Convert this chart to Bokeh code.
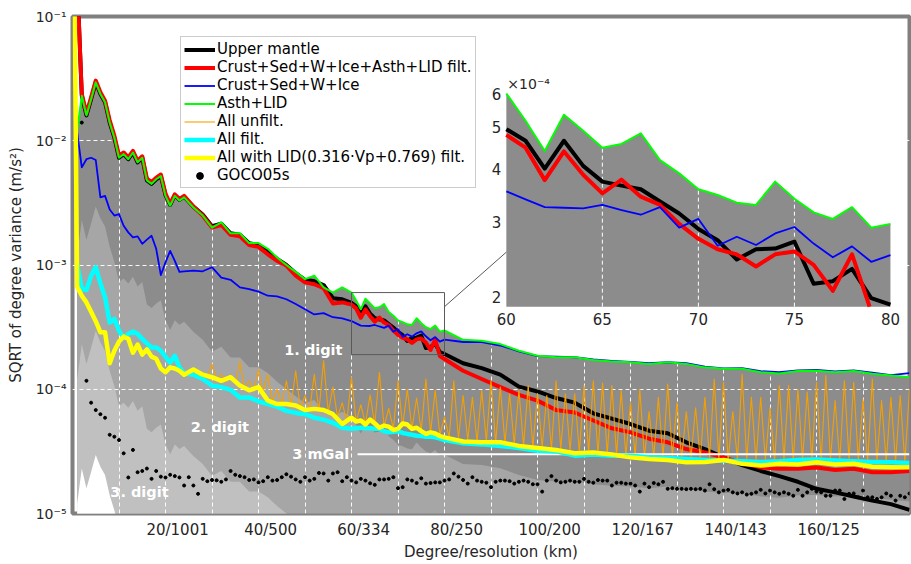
import math
from bokeh.plotting import figure
from bokeh.models import Range1d, FixedTicker, CustomJSTickFormatter, Legend, LegendItem
from bokeh.core.properties import value
from bokeh.embed import file_html
from bokeh.resources import INLINE

nan = float("nan")
FONT = "DejaVu Sans"

# ----------------------------------------------------------------- data
# spherical-harmonic degree grid shared by the model curves
degree = list(range(0, 25)) + list(range(26, 59, 2)) + list(range(60, 81)) + list(range(84, 181, 4))

upper_mantle = [nan, 0.2, 2.3e-2, 1.6e-2, 2.16e-2, 2.95e-2, 2.38e-2, 2.04e-2, 1.4e-2, 1.06e-2, 7.3e-3,
    7.8e-3, 7.1e-3, 8.05e-3, 6.7e-3, 7.3e-3, 4.8e-3, 4.5e-3, 4.9e-3, 5.2e-3, 3.65e-3,
    3.05e-3, 3.65e-3, 3.35e-3, 3.55e-3,
    2.95e-3, 2.55e-3, 2.05e-3, 2.15e-3, 1.8e-3, 1.75e-3, 1.5e-3, 1.45e-3, 1.28e-3, 1.12e-3, 1.0e-3,
    8.6e-4, 7.6e-4, 7.4e-4, 6.9e-4, 5.4e-4, 5.3e-4,
    4.95e-4, 4.65e-4, 4.00e-4, 4.65e-4, 4.06e-4, 3.73e-4, 3.65e-4, 3.58e-4, 3.35e-4, 3.14e-4, 2.89e-4,
    2.72e-4, 2.45e-4, 2.59e-4, 2.60e-4, 2.70e-4, 2.15e-4, 2.18e-4, 2.33e-4, 1.99e-4, 1.92e-4,
    1.62e-4, 1.48e-4, 1.31e-4, 1.05e-4, 9.6e-5, 8.5e-5, 7.8e-5, 6.4e-5, 5.8e-5, 5.25e-5, 4.64e-5,
    4.42e-5, 3.74e-5, 3.3e-5, 2.83e-5, 2.45e-5, 2.2e-5, 2.0e-5, 1.8e-5, 1.58e-5, 1.48e-5, 1.37e-5,
    1.27e-5, 1.19e-5, 1.07e-5]

crust_asth_lid_filt = [nan, 0.2, 2.38e-2, 1.66e-2, 2.24e-2, 3.05e-2, 2.46e-2, 2.1e-2, 1.46e-2, 1.1e-2, 7.6e-3,
    8.05e-3, 7.35e-3, 8.3e-3, 6.9e-3, 7.5e-3, 4.95e-3, 4.65e-3, 5.05e-3, 5.35e-3, 3.75e-3,
    3.1e-3, 3.7e-3, 3.4e-3, 3.6e-3,
    2.95e-3, 2.5e-3, 2.0e-3, 2.1e-3, 1.75e-3, 1.7e-3, 1.45e-3, 1.4e-3, 1.22e-3, 1.08e-3, 9.9e-4,
    8.2e-4, 7.25e-4, 7.0e-4, 6.5e-4, 4.9e-4, 5.0e-4,
    4.80e-4, 4.48e-4, 3.76e-4, 4.39e-4, 3.87e-4, 3.50e-4, 3.77e-4, 3.44e-4, 3.29e-4, 2.97e-4, 2.74e-4,
    2.59e-4, 2.52e-4, 2.36e-4, 2.52e-4, 2.56e-4, 2.38e-4, 2.07e-4, 2.52e-4, 1.85e-4, 1.75e-4,
    1.41e-4, 1.21e-4, 1.04e-4, 9.0e-5, 8.1e-5, 6.8e-5, 6.5e-5, 5.6e-5, 4.85e-5, 4.5e-5, 4.0e-5,
    3.74e-5, 3.3e-5, 3.1e-5, 2.83e-5, 2.55e-5, 2.35e-5, 2.29e-5, 2.29e-5, 2.35e-5, 2.24e-5, 2.29e-5,
    2.15e-5, 2.15e-5, 2.2e-5]

crust_sed_w_ice = [nan, 1.17e-2, 6.1e-3, 7.1e-3, 7.3e-3, 7.0e-3, 3.5e-3, 3.6e-3, 2.8e-3, 2.5e-3, 2.57e-3,
    2.07e-3, 1.83e-3, 1.67e-3, 1.7e-3, 1.48e-3, 1.6e-3, 1.72e-3, 1.35e-3, 8.3e-4, 1.05e-3,
    1.3e-3, 1.08e-3, 8.8e-4, 8.9e-4,
    9.0e-4, 8.9e-4, 9.6e-4, 7.9e-4, 7.6e-4, 6.6e-4, 6.4e-4, 6.1e-4, 5.66e-4, 5.6e-4, 5.3e-4,
    4.85e-4, 4.4e-4, 4.0e-4, 4.1e-4, 3.8e-4, 3.72e-4,
    3.54e-4, 3.39e-4, 3.25e-4, 3.24e-4, 3.23e-4, 3.29e-4, 3.20e-4, 3.12e-4, 3.25e-4, 2.91e-4, 3.05e-4,
    2.64e-4, 2.77e-4, 2.65e-4, 2.82e-4, 2.92e-4, 2.67e-4, 2.48e-4, 2.63e-4, 2.42e-4, 2.51e-4,
    2.4e-4, 2.4e-4, 2.25e-4, 2.02e-4, 1.85e-4, 1.83e-4, 1.81e-4, 1.74e-4, 1.69e-4, 1.66e-4, 1.62e-4,
    1.65e-4, 1.62e-4, 1.52e-4, 1.47e-4, 1.48e-4, 1.4e-4, 1.37e-4, 1.42e-4, 1.43e-4, 1.39e-4, 1.42e-4,
    1.36e-4, 1.3e-4, 1.35e-4]

asth_lid = [nan, 1.2e-2, 2.3e-2, 1.6e-2, 2.16e-2, 2.95e-2, 2.38e-2, 2.04e-2, 1.4e-2, 1.06e-2, 7.3e-3,
    7.8e-3, 7.1e-3, 8.05e-3, 6.7e-3, 7.3e-3, 4.8e-3, 4.5e-3, 4.9e-3, 5.2e-3, 3.6e-3,
    3.0e-3, 3.6e-3, 3.3e-3, 3.5e-3,
    2.9e-3, 2.5e-3, 2.0e-3, 2.2e-3, 1.8e-3, 1.8e-3, 1.5e-3, 1.5e-3, 1.35e-3, 1.15e-3, 1.0e-3,
    8.8e-4, 7.7e-4, 8.2e-4, 6.6e-4, 6.0e-4, 6.6e-4,
    6.0e-4, 5.18e-4, 4.40e-4, 5.35e-4, 4.91e-4, 4.48e-4, 4.57e-4, 4.84e-4, 4.19e-4, 3.90e-4, 3.58e-4,
    3.47e-4, 3.33e-4, 3.29e-4, 3.73e-4, 3.40e-4, 3.16e-4, 3.05e-4, 3.25e-4, 2.91e-4, 2.97e-4,
    2.5e-4, 2.46e-4, 2.31e-4, 2.04e-4, 1.86e-4, 1.81e-4, 1.81e-4, 1.72e-4, 1.67e-4, 1.65e-4, 1.6e-4,
    1.65e-4, 1.6e-4, 1.5e-4, 1.46e-4, 1.46e-4, 1.37e-4, 1.34e-4, 1.4e-4, 1.41e-4, 1.37e-4, 1.4e-4,
    1.33e-4, 1.29e-4, 1.25e-4]

all_filt = [nan, 1.02e-3, 6.4e-4, 6.3e-4, 8.2e-4, 9.6e-4, 7.1e-4, 5.5e-4, 3.44e-4, 3.68e-4, 2.96e-4,
    2.59e-4, 2.79e-4, 2.92e-4, 2.79e-4, 2.54e-4, 2.34e-4, 2.17e-4, 2.17e-4, 2.04e-4, 1.83e-4,
    1.64e-4, 1.86e-4, 1.5e-4, 1.34e-4,
    1.31e-4, 1.21e-4, 1.07e-4, 1.04e-4, 9.9e-5, 8.6e-5, 8.6e-5, 8.0e-5, 7.6e-5, 7.25e-5, 6.7e-5,
    6.45e-5, 6.3e-5, 5.9e-5, 5.7e-5, 5.37e-5, 4.9e-5,
    4.8e-5, 4.85e-5, 4.9e-5, 4.85e-5, 4.85e-5, 4.8e-5, 4.8e-5, 4.6e-5, 4.5e-5, 4.55e-5, 4.6e-5,
    4.45e-5, 4.37e-5, 4.3e-5, 4.23e-5, 4.2e-5, 4.15e-5, 4.15e-5, 4.1e-5, 4.0e-5, 3.9e-5,
    3.67e-5, 3.6e-5, 3.5e-5, 3.37e-5, 3.2e-5, 3.16e-5, 2.92e-5, 2.98e-5, 2.92e-5, 2.92e-5, 2.83e-5,
    2.8e-5, 2.75e-5, 2.7e-5, 2.67e-5, 2.63e-5, 2.6e-5, 2.63e-5, 2.7e-5, 2.72e-5, 2.67e-5, 2.63e-5,
    2.6e-5, 2.58e-5, 2.55e-5]

all_lid_filt = [10.0, 6.7e-4, 5.66e-4, 5.0e-4, 4.2e-4, 3.53e-4, 2.87e-4, 2.87e-4, 1.62e-4, 2.04e-4, 2.42e-4,
    2.65e-4, 2.55e-4, 1.97e-4, 2.29e-4, 1.9e-4, 2.09e-4, 1.83e-4, 1.76e-4, 1.47e-4, 1.37e-4,
    1.5e-4, 1.47e-4, 1.41e-4, 1.31e-4,
    1.44e-4, 1.31e-4, 1.25e-4, 1.17e-4, 1.25e-4, 1.07e-4, 9.8e-5, 1.04e-4, 8.1e-5, 7.6e-5, 7.6e-5,
    7.4e-5, 6.8e-5, 6.95e-5, 6.8e-5, 6.3e-5, 5.25e-5,
    5.9e-5, 5.5e-5, 5.6e-5, 5.2e-5, 5.7e-5, 5.3e-5, 4.9e-5, 5.1e-5, 5.0e-5, 4.7e-5, 4.8e-5,
    5.3e-5, 5.2e-5, 4.8e-5, 4.9e-5, 4.6e-5, 4.37e-5, 4.5e-5, 4.4e-5, 4.2e-5, 4.1e-5,
    3.8e-5, 3.74e-5, 3.74e-5, 3.5e-5, 3.37e-5, 3.24e-5, 3.05e-5, 3.1e-5, 2.98e-5, 2.83e-5, 2.75e-5,
    2.7e-5, 2.58e-5, 2.6e-5, 2.7e-5, 2.51e-5, 2.43e-5, 2.51e-5, 2.48e-5, 2.58e-5, 2.48e-5, 2.51e-5,
    2.38e-5, 2.36e-5, 2.36e-5]

# "All unfilt." (every degree 0..180)
unfilt_degree = list(range(0, 181))
all_unfilt = [
    10.0, 6.7e-4, 5.7e-4, 5.0e-4, 4.2e-4, 3.5e-4, 2.9e-4, 2.85e-4, 1.65e-4, 2.05e-4,
    2.4e-4, 2.6e-4, 2.5e-4, 2.0e-4, 2.3e-4, 1.9e-4, 2.1e-4, 1.85e-4, 1.75e-4, 1.5e-4,
    1.4e-4, 1.5e-4, 1.45e-4, 1.4e-4, 1.3e-4, 1.35e-4, 1.4e-4, 1.3e-4, 1.35e-4, 1.25e-4,
    1.6e-4, 1.2e-4, 1.32e-4, 1.15e-4, 1.3e-4, 1.1e-4, 1.68e-4, 1.02e-4, 1.17e-4, 9.8e-5,
    1.44e-4, 9.5e-5, 1.32e-4, 8.0e-5, 1.0e-4, 7.6e-5, 1.17e-4, 7.4e-5, 1.41e-4, 7.0e-5,
    8.9e-5, 6.8e-5, 1.32e-4, 6.7e-5, 1.7e-4, 6.5e-5, 1.04e-4, 6.0e-5, 7.8e-5, 5.5e-5,
    1.25e-4, 5.5e-5, 7.5e-5, 5.3e-5, 9.0e-5, 5.2e-5, 1.37e-4, 5.0e-5, 7.0e-5, 4.8e-5,
    1.17e-4, 5.0e-5, 1.0e-4, 4.8e-5, 8.5e-5, 4.6e-5, 1.21e-4, 4.5e-5, 9.8e-5, 4.3e-5,
    6.0e-5, 4.1e-5, 1.17e-4, 4.0e-5, 8.9e-5, 3.9e-5, 8.6e-5, 3.8e-5, 9.8e-5, 3.8e-5,
    1.17e-4, 3.7e-5, 1.04e-4, 3.7e-5, 9.2e-5, 3.6e-5, 9.8e-5, 3.5e-5, 1.07e-4, 3.4e-5,
    9.2e-5, 3.4e-5, 8.9e-5, 3.3e-5, 1.17e-4, 3.3e-5, 9.2e-5, 3.2e-5, 9.2e-5, 3.1e-5,
    1.07e-4, 3.1e-5, 1.17e-4, 3.0e-5, 1.12e-4, 3.0e-5, 1.07e-4, 2.95e-5, 9.8e-5, 2.9e-5,
    7.8e-5, 2.9e-5, 1.0e-4, 2.85e-5, 6.6e-5, 2.85e-5, 8.6e-5, 2.8e-5, 1.1e-4, 2.9e-5,
    7.8e-5, 2.8e-5, 6.6e-5, 2.8e-5, 7.1e-5, 2.75e-5, 8.6e-5, 2.8e-5, 1.21e-4, 2.75e-5,
    1.14e-4, 2.7e-5, 6.6e-5, 2.7e-5, 1.32e-4, 2.7e-5, 8.6e-5, 2.65e-5, 8.6e-5, 2.7e-5,
    7.1e-5, 2.65e-5, 1.07e-4, 2.7e-5, 1.07e-4, 2.65e-5, 1.0e-4, 2.7e-5, 9.5e-5, 2.7e-5,
    1.14e-4, 2.65e-5, 1.29e-4, 2.7e-5, 8.1e-5, 2.65e-5, 1.17e-4, 2.7e-5, 1.14e-4, 2.65e-5,
    8.3e-5, 2.6e-5, 1.21e-4, 2.6e-5, 8.1e-5, 2.6e-5, 8.6e-5, 2.6e-5, 8.9e-5, 2.6e-5,
    1.0e-4]

# GOCO05s (degrees 2..180)
goco_degree = list(range(2, 181))
goco05s = [
    1.4e-2, 1.17e-4, 7.8e-5, 6.8e-5, 6.3e-5, 5.9e-5, 4.3e-5, 4.15e-5, 3.9e-5, 3.05e-5,
    1.95e-5, 3.25e-5, 2.15e-5, 2.2e-5, 2.3e-5, 1.9e-5, 2.2e-5, 1.98e-5, 1.95e-5, 2.05e-5,
    2.0e-5, 1.95e-5, 1.68e-5, 1.96e-5, 1.68e-5, 1.44e-5, 1.9e-5, 1.82e-5, 1.86e-5, 1.85e-5,
    1.8e-5, 1.88e-5, 2.2e-5, 2.05e-5, 2.0e-5, 1.96e-5, 1.86e-5, 1.88e-5, 1.78e-5, 1.82e-5,
    1.96e-5, 1.84e-5, 1.86e-5, 1.96e-5, 2.07e-5, 1.98e-5, 1.88e-5, 1.8e-5, 1.96e-5, 1.84e-5,
    1.9e-5, 2.12e-5, 2.1e-5, 1.84e-5, 2.1e-5, 2.15e-5, 1.82e-5, 1.96e-5, 1.84e-5, 1.78e-5,
    1.9e-5, 1.84e-5, 1.75e-5, 1.7e-5, 1.88e-5, 1.88e-5, 1.9e-5, 1.96e-5, 1.6e-5, 1.63e-5,
    1.88e-5, 1.84e-5, 1.76e-5, 1.92e-5, 1.74e-5, 1.76e-5, 1.78e-5, 1.78e-5, 1.84e-5, 1.88e-5,
    2.1e-5, 1.98e-5, 1.86e-5, 1.74e-5, 1.96e-5, 1.84e-5, 1.8e-5, 1.77e-5, 1.63e-5, 1.8e-5,
    1.84e-5, 1.84e-5, 1.82e-5, 1.74e-5, 1.8e-5, 1.84e-5, 1.8e-5, 1.72e-5, 1.72e-5, 1.5e-5,
    1.84e-5, 2.0e-5, 1.84e-5, 1.78e-5, 1.8e-5, 1.84e-5, 1.8e-5, 1.8e-5, 1.9e-5, 1.8e-5,
    1.77e-5, 1.86e-5, 1.84e-5, 1.84e-5, 1.68e-5, 1.77e-5, 1.77e-5, 1.74e-5, 1.74e-5, 1.68e-5,
    1.5e-5, 1.74e-5, 1.63e-5, 1.76e-5, 1.72e-5, 1.8e-5, 1.58e-5, 1.6e-5, 1.58e-5, 1.58e-5,
    1.57e-5, 1.58e-5, 1.57e-5, 1.58e-5, 1.53e-5, 1.72e-5, 1.57e-5, 1.48e-5, 1.53e-5, 1.55e-5,
    1.48e-5, 1.45e-5, 1.48e-5, 1.42e-5, 1.44e-5, 1.48e-5, 1.55e-5, 1.45e-5, 1.53e-5, 1.48e-5,
    1.44e-5, 1.48e-5, 1.44e-5, 1.39e-5, 1.55e-5, 1.39e-5, 1.48e-5, 1.58e-5, 1.5e-5, 1.48e-5,
    1.39e-5, 1.39e-5, 1.53e-5, 1.53e-5, 1.31e-5, 1.44e-5, 1.45e-5, 1.35e-5, 1.53e-5, 1.35e-5,
    1.35e-5, 1.31e-5, 1.35e-5, 1.45e-5, 1.39e-5, 1.27e-5, 1.39e-5, 1.35e-5, 1.45e-5]

x_tick_degrees = [20, 40, 60, 80, 100, 120, 140, 160]
x_tick_labels = ["20/1001", "40/500", "60/334", "80/250", "100/200", "120/167", "140/143", "160/125"]
y_ticks = [1e-5, 1e-4, 1e-3, 1e-2, 1e-1]
x_grid_degrees = list(range(10, 180, 10))

digit_factors = [1.0, 0.1, 0.01, 0.001]        # significance levels of the Asth+LID signal
digit_labels = ["1. digit", "2. digit", "3. digit"]
mgal_level = 3e-5                                # 3 mGal
mgal_label = "3 mGal"

zoom_degrees = (60, 80)
zoom_values = (1.9e-4, 6.0e-4)
inset_x_ticks = [60, 65, 70, 75, 80]
inset_y_ticks = [2e-4, 3e-4, 4e-4, 5e-4, 6e-4]
inset_y_labels = ["2", "3", "4", "5", "6"]

legend_labels = ["Upper mantle", "Crust+Sed+W+Ice+Asth+LID filt.", "Crust+Sed+W+Ice", "Asth+LID",
                 "All unfilt.", "All filt.", "All with LID(0.316\u00b7Vp+0.769) filt.", "GOCO05s"]

# ----------------------------------------------------------------- layout constants
LABEL_SHIFT = 2.6                      # x tick labels sit slightly right of their degree
INSET_BOX_X = (93.3, 175.9)            # inset placement, in main-plot degrees
INSET_BOX_Y = (4.62e-4, 2.4e-2)        # inset placement, in main-plot values
CONNECT_AT = 2.55e-4                   # inset value where the connector line ends
MGAL_LINE_START = 61.3
BOTTOM = 1e-7
DIGIT_COLORS = ["#8c8c8c", "#a6a6a6", "#c0c0c0", "#ffffff"]
GRID_DASH = "4 3"

# ----------------------------------------------------------------- figure
p = figure(width=911, height=564, title=None,
           x_range=Range1d(0, 180), y_range=Range1d(1e-5, 1e-1), y_axis_type="log",
           output_backend="svg", toolbar_location=None,
           min_border_left=72, min_border_right=2, min_border_top=16, min_border_bottom=51)
p.outline_line_color = "#808080"
p.outline_line_width = 4
p.background_fill_color = "white"
p.border_fill_color = "white"

p.xaxis.ticker = FixedTicker(ticks=[d + LABEL_SHIFT for d in x_tick_degrees])
p.xaxis.formatter = CustomJSTickFormatter(
    args=dict(pos=[d + LABEL_SHIFT for d in x_tick_degrees], labels=x_tick_labels),
    code="for (let i = 0; i < pos.length; i++) { if (Math.abs(pos[i] - tick) < 1e-6) return labels[i]; } return '';")
p.yaxis.ticker = FixedTicker(ticks=y_ticks)
p.yaxis.formatter = CustomJSTickFormatter(code="""
const e = Math.round(Math.log10(tick));
const sup = {"-": "\u207b", "0": "\u2070", "1": "\u00b9", "2": "\u00b2", "3": "\u00b3", "4": "\u2074",
             "5": "\u2075", "6": "\u2076", "7": "\u2077", "8": "\u2078", "9": "\u2079"};
let s = "";
for (const c of String(e)) s += sup[c];
return "10" + s;
""")
for ax in (p.xaxis[0], p.yaxis[0]):
    ax.axis_line_color = None
    ax.major_tick_line_color = None
    ax.minor_tick_line_color = None
    ax.major_tick_out = 0
    ax.major_tick_in = 0
    ax.minor_tick_out = 0
    ax.minor_tick_in = 0
    ax.major_label_text_font = FONT
    ax.major_label_text_color = "#262626"
    ax.axis_label_text_font = FONT
    ax.axis_label_text_font_style = "normal"
    ax.axis_label_text_font_size = "15px"
    ax.axis_label_text_color = "#262626"
p.xaxis.major_label_text_font_size = "15px"
p.yaxis.major_label_text_font_size = "14px"
p.xaxis.axis_label = "Degree/resolution (km)"
p.yaxis.axis_label = "SQRT of degree variance (m/s\u00b2)"
p.xaxis.major_label_standoff = 7
p.yaxis.major_label_standoff = 6
p.xaxis.axis_label_standoff = 1
p.yaxis.axis_label_standoff = 8

p.xgrid.ticker = FixedTicker(ticks=x_grid_degrees)
p.ygrid.ticker = FixedTicker(ticks=[1e-4, 1e-3, 1e-2])
for g in (p.xgrid[0], p.ygrid[0]):
    g.grid_line_color = "white"
    g.grid_line_dash = GRID_DASH
    g.grid_line_width = 1
    g.grid_line_alpha = 0.95

# digit layers below the Asth+LID curve
fill_deg = [d for d, v in zip(degree, asth_lid) if not math.isnan(v)]
fill_val = [v for v in asth_lid if not math.isnan(v)]
for f, c in zip(digit_factors, DIGIT_COLORS):
    r = p.varea(x=fill_deg, y1=[BOTTOM] * len(fill_deg), y2=[v * f for v in fill_val], fill_color=c)
    r.level = "image"

# model curves
r_black = p.line(degree, upper_mantle, line_color="black", line_width=4, line_join="round")
r_red = p.line(degree, crust_asth_lid_filt, line_color="#ff0000", line_width=4, line_join="round")
r_blue = p.line(degree, crust_sed_w_ice, line_color="#0000ff", line_width=1.8, line_join="round")
r_green = p.line(degree, asth_lid, line_color="#00ff00", line_width=2, line_join="round")
r_orange = p.line(unfilt_degree, all_unfilt, line_color="#f5a000", line_width=1.1, line_join="round")
p.line([MGAL_LINE_START, 180], [mgal_level, mgal_level], line_color="white", line_width=2)
r_cyan = p.line(degree, all_filt, line_color="#00ffff", line_width=4.5, line_join="round")
r_yellow = p.line(degree, all_lid_filt, line_color="#ffff00", line_width=4.5, line_join="round")
r_goco = p.scatter(goco_degree, goco05s, marker="circle", size=3.0, color="black")

# ----------------------------------------------------------------- inset (drawn in main coordinates)
LX0, LX1 = INSET_BOX_X
LY0, LY1 = math.log10(INSET_BOX_Y[0]), math.log10(INSET_BOX_Y[1])
ZL0, ZL1 = math.log10(zoom_values[0]), math.log10(zoom_values[1])


def tx(x):
    return LX0 + (x - zoom_degrees[0]) / (zoom_degrees[1] - zoom_degrees[0]) * (LX1 - LX0)


def ty(v):
    return 10 ** (LY0 + (math.log10(v) - ZL0) / (ZL1 - ZL0) * (LY1 - LY0))


def clip(xs, ys):
    ox, oy = [], []
    lv = [math.log10(v) for v in ys]

    def inside(t):
        return ZL0 <= t <= ZL1

    for i in range(len(xs)):
        if inside(lv[i]):
            if i > 0 and not inside(lv[i - 1]):
                b = ZL0 if lv[i - 1] < ZL0 else ZL1
                t = (b - lv[i - 1]) / (lv[i] - lv[i - 1])
                ox.append(xs[i - 1] + t * (xs[i] - xs[i - 1]))
                oy.append(10 ** b)
            ox.append(xs[i])
            oy.append(ys[i])
        elif i > 0 and inside(lv[i - 1]):
            b = ZL0 if lv[i] < ZL0 else ZL1
            t = (b - lv[i - 1]) / (lv[i] - lv[i - 1])
            ox.append(xs[i - 1] + t * (xs[i] - xs[i - 1]))
            oy.append(10 ** b)
            ox.append(nan)
            oy.append(nan)
    return [tx(x) if not math.isnan(x) else nan for x in ox], [ty(v) if not math.isnan(v) else nan for v in oy]


idx = [i for i, d in enumerate(degree) if zoom_degrees[0] <= d <= zoom_degrees[1]]
zd = [degree[i] for i in idx]

p.varea(x=[tx(d) for d in zd], y1=[INSET_BOX_Y[0]] * len(zd),
        y2=[ty(asth_lid[i]) for i in idx], fill_color=DIGIT_COLORS[0])
gx = [tx(t) for t in inset_x_ticks[1:-1]]
p.segment(x0=gx, y0=[INSET_BOX_Y[0]] * len(gx), x1=gx, y1=[INSET_BOX_Y[1]] * len(gx),
          line_color="white", line_dash=GRID_DASH, line_width=1)
for series, col, w in ((upper_mantle, "black", 4), (crust_asth_lid_filt, "#ff0000", 4),
                       (crust_sed_w_ice, "#0000ff", 1.8), (asth_lid, "#00ff00", 2)):
    cx, cy = clip(zd, [series[i] for i in idx])
    p.line(cx, cy, line_color=col, line_width=w, line_join="round")

p.text(x=[tx(t) for t in inset_x_ticks], y=[INSET_BOX_Y[0]] * len(inset_x_ticks),
       text=[str(t) for t in inset_x_ticks], y_offset=6, text_align="center", text_baseline="top",
       text_font=value(FONT), text_font_size=value("15px"), text_color="#262626")
p.text(x=[LX0] * len(inset_y_ticks), y=[ty(v) for v in inset_y_ticks], text=inset_y_labels,
       x_offset=-5, text_align="right", text_baseline="middle",
       text_font=value(FONT), text_font_size=value("15px"), text_color="#262626")
p.text(x=[LX0], y=[INSET_BOX_Y[1]], text=["\u00d710\u207b\u2074"], x_offset=1, y_offset=-2,
       text_align="left", text_baseline="bottom",
       text_font=value(FONT), text_font_size=value("14px"), text_color="#262626")

# zoom rectangle and connector
p.quad(left=[zoom_degrees[0]], right=[zoom_degrees[1]], bottom=[zoom_values[0]], top=[zoom_values[1]],
       fill_alpha=0, line_color="#5a5a5a", line_width=1)
p.line([zoom_degrees[1], LX0], [INSET_BOX_Y[0], ty(CONNECT_AT)], line_color="#5a5a5a", line_width=1)

# ----------------------------------------------------------------- annotations
p.text(x=[51.8, 31.7, 14.4], y=[2.08e-4, 5.0e-5, 1.49e-5], text=digit_labels,
       text_align="center", text_baseline="middle", text_font=value(FONT),
       text_font_size=value("14.5px"), text_font_style="bold", text_color="white")
p.text(x=[59.5], y=[mgal_level], text=[mgal_label], text_align="right", text_baseline="middle",
       text_font=value(FONT), text_font_size=value("14.5px"), text_font_style="bold", text_color="white")

legend = Legend(items=[LegendItem(label=lab, renderers=[r]) for lab, r in zip(
    legend_labels, [r_black, r_red, r_blue, r_green, r_orange, r_cyan, r_yellow, r_goco])],
    location=(108, 325))
legend.label_text_font = FONT
legend.label_text_font_size = "15px"
legend.label_text_color = "black"
legend.border_line_color = "#9a9a9a"
legend.border_line_width = 1
legend.background_fill_color = "white"
legend.background_fill_alpha = 1
legend.padding = 3
legend.spacing = 0
legend.margin = 0
legend.label_height = 17
legend.glyph_height = 17
legend.glyph_width = 31
legend.label_standoff = 2
p.add_layout(legend)

open("out.html", "w").write(file_html(p, INLINE))
